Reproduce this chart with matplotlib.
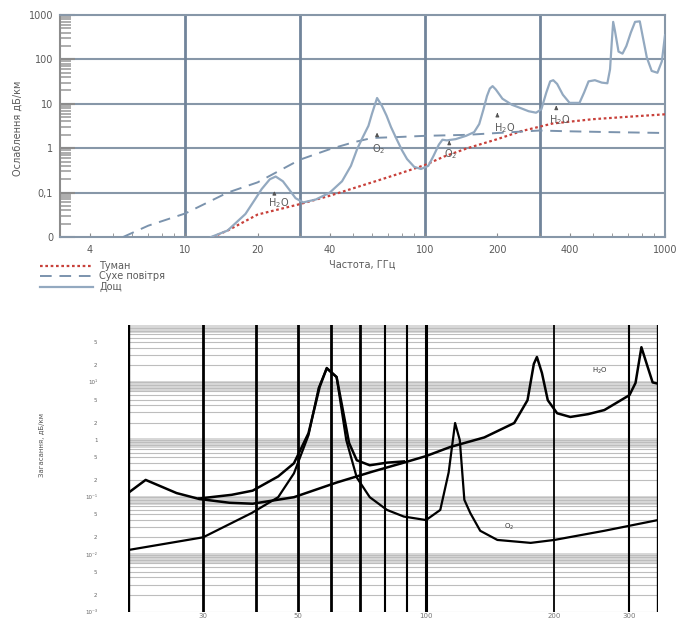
import matplotlib
matplotlib.use("Agg")
import matplotlib.pyplot as plt
from matplotlib.ticker import FixedLocator, NullFormatter

# ---- attenuation vs frequency (upper chart), GHz / dB/km ----
fog_f = [13, 15, 20, 30, 40, 60, 80, 100, 120, 150, 200, 250, 340, 500, 700, 1000]
fog_db = [0.01, 0.014, 0.032, 0.055, 0.085, 0.17, 0.28, 0.42, 0.65, 1.0, 1.6, 2.4, 3.6, 4.5, 5.1, 5.8]

dry_f = [5.5, 7, 10, 15, 20, 30, 40, 50, 60, 80, 100, 150, 200, 300, 400, 600, 1000]
dry_db = [0.01, 0.018, 0.034, 0.1, 0.17, 0.55, 0.95, 1.35, 1.7, 1.8, 1.9, 2.0, 2.2, 2.5, 2.4, 2.3, 2.2]

rain_f = [12.8, 15, 17.8, 19.5, 20.8, 22.5, 23.8, 25.5, 27, 28.8, 31, 35, 40, 45, 49, 52,
          55, 58, 60, 63, 66, 69, 72, 76, 80, 84, 90, 96, 103, 108, 114, 118, 123, 134,
          148, 160, 168, 175, 181, 186, 191, 197, 210, 230, 250, 270, 290, 305, 320, 332,
          342, 355, 375, 400, 440, 460, 480, 510, 545, 575, 590, 600, 608, 618, 640, 665,
          690, 720, 750, 785, 810, 840, 880, 930, 970, 1000]
rain_db = [0.01, 0.014, 0.033, 0.07, 0.12, 0.2, 0.23, 0.18, 0.12, 0.075, 0.06, 0.07, 0.1,
           0.18, 0.4, 0.95, 1.8, 3.2, 6, 13.5, 9, 5.4, 3, 1.6, 0.9, 0.57, 0.38, 0.34, 0.4,
           0.65, 1.2, 1.55, 1.5, 1.6, 1.9, 2.3, 3.5, 7.5, 15, 22, 25, 21, 13, 9.5, 8, 6.8,
           6.3, 7.5, 18, 32, 34, 28, 16, 10.5, 10.5, 18, 32, 34, 30, 29, 60, 250, 700, 450,
           150, 135, 200, 400, 700, 720, 300, 110, 55, 50, 90, 350]

top_xticks = [4, 10, 20, 40, 100, 200, 400, 1000]
top_xlabels = ["4", "10", "20", "40", "100", "200", "400", "1000"]
top_yticks = [0.01, 0.1, 1, 10, 100, 1000]
top_ylabels = ["0", "0,1", "1", "10", "100", "1000"]

# line labels: (text, text freq, text level, arrow freq, arrow from, arrow to)
top_marks = [
    ("H$_2$O", 24.5, 0.057, 23.5, 0.08, 0.125),
    ("O$_2$", 64, 0.95, 63, 1.6, 2.6),
    ("O$_2$", 128, 0.73, 126, 1.15, 1.7),
    ("H$_2$O", 214, 2.9, 200, 4.9, 7.2),
    ("H$_2$O", 364, 4.4, 352, 7.0, 10.5),
]

# ---- O2 / H2O absorption (lower chart) ----
o2_f = [20, 30, 39, 45, 49, 53, 56, 58.5, 61.7, 65, 68.8, 73.8, 81, 88.7, 100, 108, 113,
        117, 120, 123, 127, 134, 147, 176, 200, 262, 350]
o2_db = [0.012, 0.02, 0.053, 0.1, 0.26, 1.2, 8, 17.5, 12.4, 0.99, 0.22, 0.1, 0.06, 0.046,
         0.04, 0.06, 0.27, 1.96, 0.99, 0.09, 0.053, 0.026, 0.018, 0.016, 0.018, 0.026, 0.04]

h2o_f = [20, 22, 26, 29.4, 34.6, 39.2, 49, 61.7, 75, 88.7, 100, 114, 137, 161, 173, 179,
         182, 187, 193, 203, 218, 240, 262, 300, 310, 320, 331, 340, 350]
h2o_db = [0.118, 0.2, 0.118, 0.093, 0.08, 0.077, 0.1, 0.18, 0.28, 0.4, 0.52, 0.75, 1.1,
          1.96, 4.9, 21, 27.7, 14.6, 4.9, 2.9, 2.5, 2.8, 3.3, 6.0, 9.8, 41, 18.6, 10, 9.5]

tot_f = [29.4, 35, 39.2, 45, 49, 53, 56.3, 58.5, 61.7, 66, 68.8, 73.8, 81, 88.7]
tot_db = [0.095, 0.11, 0.13, 0.23, 0.39, 1.3, 8.3, 17.8, 12.4, 0.88, 0.44, 0.36, 0.4, 0.42]

bot_vlines = [20, 30, 40, 50, 60, 70, 80, 90, 100, 200, 300, 350]
bot_vwidths = [2.4, 2.0, 2.0, 2.0, 2.0, 2.0, 1.5, 1.5, 2.2, 1.3, 1.5, 2.4]
bot_xticks = [30, 50, 100, 200, 300]
bot_xlabels = ["30", "50", "100", "200", "300"]
bot_decades = [1e-3, 1e-2, 1e-1, 1, 10]
bot_declabels = ["10⁻³", "10⁻²", "10⁻¹", "1", "10¹"]

GRID = "#8797a8"
TXT = "#5a5a5a"

fig = plt.figure(figsize=(6.81, 6.19), dpi=100)

# ================= upper chart =================
ax = fig.add_axes([60 / 681, 1 - 237 / 619, 605 / 681, 222 / 619])
ax.set_xscale("log")
ax.set_yscale("log")
ax.set_xlim(3, 1000)
ax.set_ylim(0.01, 1000)

for v in [0.1, 1, 10, 100]:
    ax.axhline(v, color=GRID, lw=1.5, zorder=1)
for f in [10, 30, 100, 300]:
    ax.axvline(f, color="#71849a", lw=2.0, zorder=1)

l_fog, = ax.plot(fog_f, fog_db, color="#c8403a", lw=1.6, ls=(0, (1.2, 1.2)), zorder=3,
                 label="Туман")
l_dry, = ax.plot(dry_f, dry_db, color="#7b93ad", lw=1.4, ls=(0, (6, 4)), zorder=3,
                 label="Сухе повітря")
l_rain, = ax.plot(rain_f, rain_db, color="#93a9c0", lw=1.6, zorder=4, label="Дощ")

for txt, tf, tv, af, a0, a1 in top_marks:
    ax.text(tf, tv, txt, fontsize=7, color=TXT, ha="center", va="center", zorder=5)
    ax.annotate("", xy=(af, a1), xytext=(af, a0),
                arrowprops=dict(arrowstyle="-|>", color="#555555", lw=0.8,
                                mutation_scale=5), zorder=5)

for s in ax.spines.values():
    s.set_color(GRID)
    s.set_linewidth(1.5)
ax.spines["left"].set_color("#8c8c8c")

ax.xaxis.set_major_locator(FixedLocator(top_xticks))
ax.set_xticklabels(top_xlabels)
ax.xaxis.set_minor_formatter(NullFormatter())
ax.yaxis.set_major_locator(FixedLocator(top_yticks))
ax.set_yticklabels(top_ylabels)
ax.yaxis.set_minor_formatter(NullFormatter())
ax.tick_params(axis="x", which="both", direction="in", length=3, color="#8c8c8c",
               labelsize=7, labelcolor=TXT, pad=6)
ax.tick_params(axis="y", which="major", direction="in", length=11, width=1.5,
               color="#8c8c8c", labelsize=7, labelcolor=TXT, pad=5)
ax.tick_params(axis="y", which="minor", direction="in", length=8, width=1.2,
               color="#a0a0a0")
ax.set_xlabel("Частота, ГГц", fontsize=7, color=TXT, labelpad=3)
fig.text(18 / 681, 1 - 128 / 619, "Ослаблення дБ/км", rotation=90, fontsize=7,
         color=TXT, ha="center", va="center")

ax.legend(handles=[l_fog, l_dry, l_rain], loc="upper left",
          bbox_to_anchor=(40 / 681, 1 - 261 / 619), bbox_transform=fig.transFigure,
          frameon=False, fontsize=7, labelcolor=TXT, handlelength=5.5,
          handletextpad=0.6, labelspacing=0.05, borderpad=0, borderaxespad=0)

# ================= lower chart =================
bx = fig.add_axes([128 / 681, 1 - 612 / 619, 530 / 681, 287 / 619])
bx.set_xscale("log")
bx.set_yscale("log")
bx.set_xlim(20, 350)
bx.set_ylim(1e-3, 1e2)

# log-paper rulings with shaded dense strips under each decade line
for d in bot_decades:
    bx.axhspan(0.72 * d * 10, 1.06 * d * 10, color="#d8d8d8", lw=0, zorder=0)
    for m in range(1, 10):
        bx.axhline(m * d, color="#bdbdbd", lw=0.8, zorder=1)
bx.axhspan(0.72e-2, 1.06e-2, color="#d8d8d8", lw=0, zorder=0)

for f, w in zip(bot_vlines, bot_vwidths):
    bx.axvline(f, color="black", lw=w, zorder=2)

bx.plot(h2o_f, h2o_db, color="black", lw=1.8, zorder=3)
bx.plot(o2_f, o2_db, color="black", lw=1.6, zorder=3)
bx.plot(tot_f, tot_db, color="black", lw=1.8, zorder=3)

bx.text(157, 0.03, "O$_2$", fontsize=5, color="#333333", ha="center", va="center")
bx.text(255, 16, "H$_2$O", fontsize=5, color="#333333", ha="center", va="center")

for s in bx.spines.values():
    s.set_visible(False)

bx.xaxis.set_major_locator(FixedLocator(bot_xticks))
bx.set_xticklabels(bot_xlabels)
bx.xaxis.set_minor_locator(FixedLocator([]))
bx.tick_params(axis="x", length=0, labelsize=5, labelcolor="#777777", pad=1)

yt, yl = [], []
for d, lab in zip(bot_decades, bot_declabels):
    yt += [d, 2 * d, 5 * d]
    yl += [lab, "2", "5"]
bx.yaxis.set_major_locator(FixedLocator(yt))
bx.set_yticklabels(yl)
bx.yaxis.set_minor_locator(FixedLocator([]))
bx.tick_params(axis="y", length=0, labelsize=4, labelcolor="#666666", pad=22)
fig.text(42 / 681, 1 - 445 / 619, "Загасання, дБ/км", rotation=90, fontsize=5,
         color="#555555", ha="center", va="center")

fig.savefig("out.png", dpi=100)
